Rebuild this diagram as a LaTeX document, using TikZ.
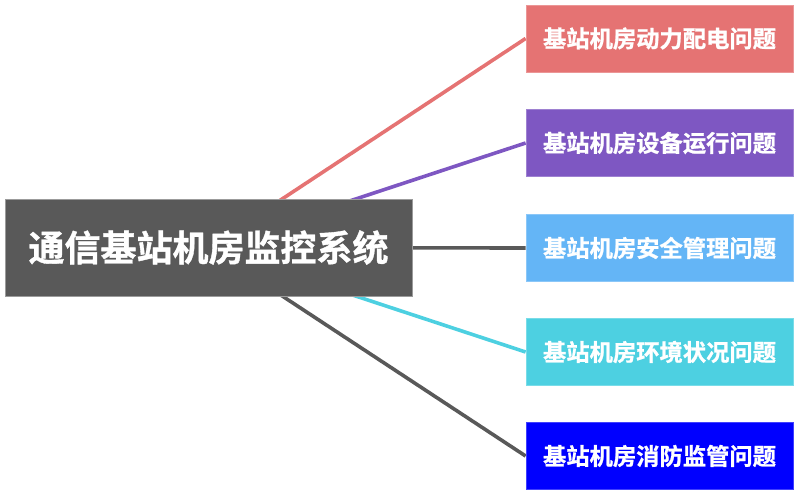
\documentclass[tikz,border=0pt]{standalone}
\usepackage{fontspec}
\newfontfamily\cjk[FakeBold=1]{Noto Sans CJK SC Bold}
\usetikzlibrary{backgrounds}
\definecolor{hubgray}{HTML}{595959}
\definecolor{powerred}{HTML}{E57373}
\definecolor{runpurple}{HTML}{7E57C2}
\definecolor{safeblue}{HTML}{64B5F6}
\definecolor{envcyan}{HTML}{4DD0E1}
\definecolor{fireblue}{HTML}{0000FF}

\begin{document}
\begin{tikzpicture}[x=1pt, y=-1pt,
  hub/.style={fill=hubgray, draw=hubgray!60!white, line width=0.8pt, text=white,
    minimum width=407pt, minimum height=97pt, inner sep=0pt,
    font=\cjk\fontsize{36}{36}\selectfont},
  issue/.style={fill=#1, draw=#1!75!white, line width=0.8pt, text=white,
    minimum width=267pt, minimum height=67pt, inner sep=0pt,
    font=\cjk\fontsize{23.3}{24}\selectfont},
  link/.style={draw=#1, line width=3.6pt}]

  \useasboundingbox (0,0) rectangle (800,496);

  % ---- the system in the middle ----
  \node[hub] (sys) at (208.5,247.5) {通信基站机房监控系统};

  % ---- the five problem areas ----
  \node[issue=powerred]   (power) at (659.5,38.5) {基站机房动力配电问题};
  \node[issue=runpurple]  (equip) at (659.5,143)  {基站机房设备运行问题};
  \node[issue=safeblue]   (safe)  at (659.5,248)  {基站机房安全管理问题};
  \node[issue=envcyan]    (env)   at (659.5,352)  {基站机房环境状况问题};
  \node[issue=fireblue]   (fire)  at (659.5,456)  {基站机房消防监管问题};

  % branches, behind the boxes
  \begin{scope}[on background layer]
    \draw[link=powerred]  (sys.center) -- (power.west);
    \draw[link=runpurple] (sys.center) -- (equip.west);
    \draw[link=hubgray]   (sys.center) -- (safe.west);
    \draw[link=envcyan]   (sys.center) -- (env.west);
    \draw[link=hubgray]   (sys.center) -- (fire.west);
  \end{scope}

\end{tikzpicture}
\end{document}
